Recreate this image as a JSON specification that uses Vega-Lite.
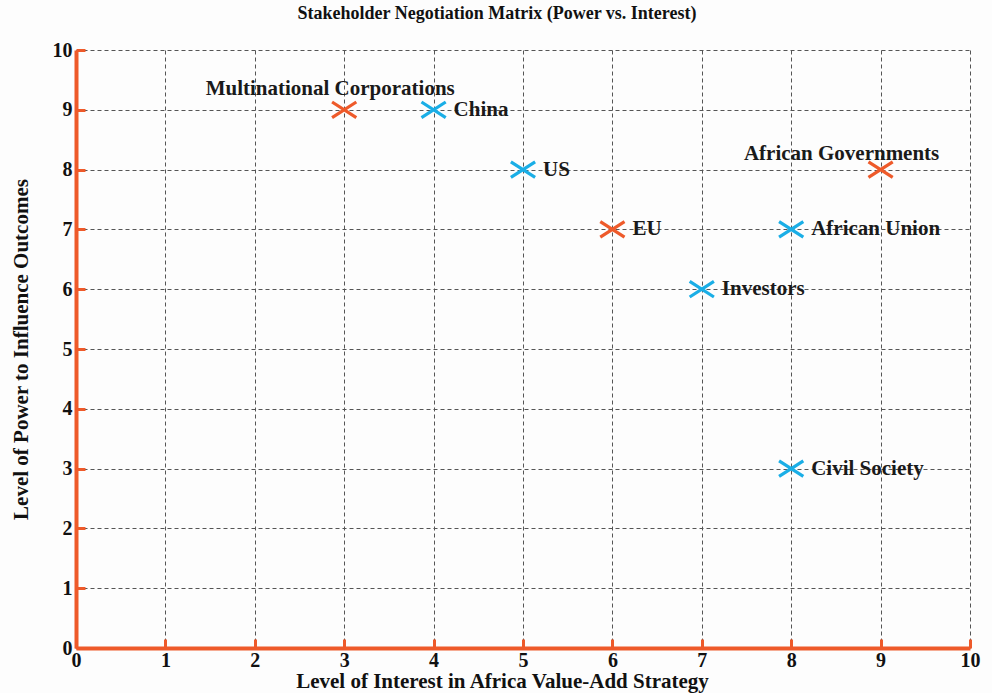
{
  "$schema": "https://vega.github.io/schema/vega-lite/v6.json",
  "width": 894,
  "height": 598,
  "autosize": {"type": "none"},
  "padding": {"left": 76, "top": 50, "right": 22, "bottom": 45},
  "background": "#fdfdfd",
  "title": {
    "text": "Stakeholder Negotiation Matrix (Power vs. Interest)",
    "font": "Liberation Serif",
    "fontSize": 18,
    "fontWeight": "bold",
    "color": "#111",
    "anchor": "middle",
    "dx": -26,
    "offset": 17
  },
  "config": {
    "view": {"stroke": null},
    "axis": {
      "labelFont": "Liberation Serif",
      "labelFontSize": 20,
      "labelFontWeight": "bold",
      "labelColor": "#111",
      "titleFont": "Liberation Serif",
      "titleFontSize": 21,
      "titleFontWeight": "bold",
      "titleColor": "#111",
      "domainColor": "#EE5A2A",
      "domainWidth": 4,
      "tickColor": "#EE5A2A",
      "tickWidth": 3,
      "tickSize": -9,
      "gridColor": "#555",
      "gridDash": [4, 3],
      "gridWidth": 1,
      "gridOpacity": 1
    }
  },
  "data": {
    "values": [
      {"name": "Multinational Corporations", "interest": 3, "power": 9, "group": "A"},
      {"name": "China", "interest": 4, "power": 9, "group": "B"},
      {"name": "US", "interest": 5, "power": 8, "group": "B"},
      {"name": "EU", "interest": 6, "power": 7, "group": "A"},
      {"name": "African Governments", "interest": 9, "power": 8, "group": "A"},
      {"name": "African Union", "interest": 8, "power": 7, "group": "B"},
      {"name": "Investors", "interest": 7, "power": 6, "group": "B"},
      {"name": "Civil Society", "interest": 8, "power": 3, "group": "B"}
    ]
  },
  "encoding": {
    "x": {
      "field": "interest",
      "type": "quantitative",
      "scale": {"domain": [0, 10], "nice": false, "zero": true},
      "axis": {
        "title": "Level of Interest in Africa Value-Add Strategy",
        "values": [0, 1, 2, 3, 4, 5, 6, 7, 8, 9, 10],
        "format": "d",
        "labelPadding": 11,
        "labelFlush": false,
        "labelOverlap": false,
        "titleX": 426,
        "titlePadding": 0
      }
    },
    "y": {
      "field": "power",
      "type": "quantitative",
      "scale": {"domain": [0, 10], "nice": false, "zero": true},
      "axis": {
        "title": "Level of Power to Influence Outcomes",
        "values": [0, 1, 2, 3, 4, 5, 6, 7, 8, 9, 10],
        "format": "d",
        "labelPadding": 13,
        "labelFlush": false,
        "labelOverlap": false,
        "titleY": 299,
        "titlePadding": 21
      }
    }
  },
  "layer": [
    {
      "mark": {
        "type": "point",
        "shape": "M-1.4,-0.9L1.4,0.9M-1.4,0.9L1.4,-0.9",
        "filled": false,
        "size": 300,
        "strokeWidth": 3.2,
        "opacity": 1
      },
      "encoding": {
        "color": {
          "field": "group",
          "type": "nominal",
          "scale": {"domain": ["A", "B"], "range": ["#EE5A2A", "#1AAEE6"]},
          "legend": null
        }
      }
    },
    {
      "transform": [{"filter": "datum.name != 'Multinational Corporations' && datum.name != 'African Governments'"}],
      "mark": {
        "type": "text",
        "align": "left",
        "baseline": "middle",
        "dx": 20,
        "font": "Liberation Serif",
        "fontSize": 21,
        "fontWeight": "bold",
        "color": "#1a1a1a"
      },
      "encoding": {"text": {"field": "name"}}
    },
    {
      "transform": [{"filter": "datum.name == 'Multinational Corporations'"}],
      "mark": {
        "type": "text",
        "align": "center",
        "baseline": "middle",
        "dx": -14,
        "dy": -21,
        "font": "Liberation Serif",
        "fontSize": 21,
        "fontWeight": "bold",
        "color": "#1a1a1a"
      },
      "encoding": {"text": {"field": "name"}}
    },
    {
      "transform": [{"filter": "datum.name == 'African Governments'"}],
      "mark": {
        "type": "text",
        "align": "center",
        "baseline": "middle",
        "dx": -39,
        "dy": -16,
        "font": "Liberation Serif",
        "fontSize": 21,
        "fontWeight": "bold",
        "color": "#1a1a1a"
      },
      "encoding": {"text": {"field": "name"}}
    }
  ]
}
